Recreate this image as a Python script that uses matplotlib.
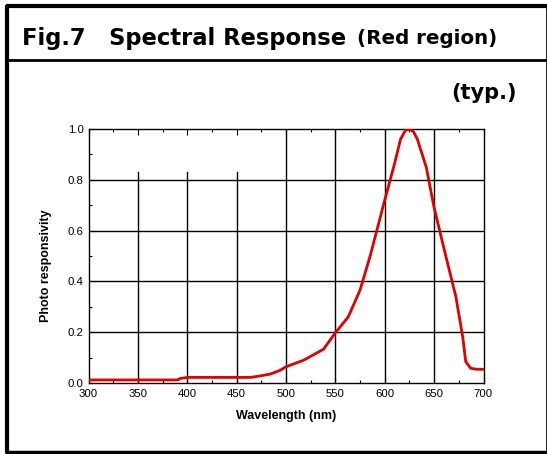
import matplotlib.pyplot as plt
from matplotlib.lines import Line2D
from matplotlib.ticker import MultipleLocator

# values
wavelength = [300, 390, 393, 400, 464, 474, 484, 494, 500, 518, 538, 550, 563, 575,
              585, 600, 610, 616, 621, 625, 629, 633, 642, 650, 662, 672, 679, 682,
              687, 693, 700]
response = [0.012, 0.012, 0.018, 0.022, 0.022, 0.028, 0.035, 0.05, 0.064, 0.09, 0.133,
            0.198, 0.26, 0.366, 0.497, 0.72, 0.865, 0.96, 0.995, 1.0, 0.99, 0.96,
            0.85, 0.69, 0.497, 0.34, 0.18, 0.084, 0.058, 0.054, 0.054]

x_ticks = [300, 350, 400, 450, 500, 550, 600, 650, 700]
y_ticks = [0.0, 0.2, 0.4, 0.6, 0.8, 1.0]

plt.rcParams['font.family'] = ['Liberation Sans', 'DejaVu Sans']

fig = plt.figure(figsize=(5.47, 4.54), dpi=100)
W, H = 547, 454

def px_line(x0, y0, x1, y1, lw):
    fig.add_artist(Line2D([x0 / W, x1 / W], [1 - y0 / H, 1 - y1 / H],
                          transform=fig.transFigure, color='black', lw=lw,
                          solid_capstyle='butt'))

# outer frame and title separator
px_line(6, 6, 547, 6, 3)
px_line(7, 5, 7, 453, 3)
px_line(5, 452, 547, 452, 2.5)
px_line(546, 5, 546, 453, 0.6)
px_line(7, 60, 547, 60, 2)

fig.text(22 / W, 1 - 38 / H, 'Fig.7   Spectral Response', fontsize=16.3,
         fontweight='bold', family='DejaVu Sans', va='center')
fig.text(357 / W, 1 - 39 / H, '(Red region)', fontsize=14.3,
         fontweight='bold', family='DejaVu Sans', va='center')
fig.text(517 / W, 1 - 93 / H, '(typ.)', fontsize=15,
         fontweight='bold', family='DejaVu Sans', va='center', ha='right')

ax = fig.add_axes([88.5 / W, 1 - 383 / H, (483.5 - 88.5) / W, (383 - 129) / H])
ax.set_xlim(300, 700)
ax.set_ylim(0, 1.0)

# grid (the short lines on the left stop below the top in the original)
for xv in x_ticks[1:-1]:
    top = 0.83 if xv < 500 else 1.0
    ax.axvline(xv, ymax=top, color='black', lw=1, zorder=1)
for yv in y_ticks[1:-1]:
    ax.axhline(yv, color='black', lw=1, zorder=1)

ax.plot(wavelength, response, color='#e00000', lw=2, zorder=3)

ax.set_xticks(x_ticks)
ax.set_yticks(y_ticks)
ax.set_yticklabels(['%.1f' % v for v in y_ticks])
ax.xaxis.set_minor_locator(MultipleLocator(25))
ax.yaxis.set_minor_locator(MultipleLocator(0.1))
ax.tick_params(which='both', direction='in', top=True, right=False,
               labelsize=8.2, width=0.8)
ax.tick_params(axis='x', pad=4.5)
ax.tick_params(axis='y', pad=3.5)
ax.tick_params(which='major', length=4)
ax.tick_params(which='minor', length=2.5)
for s in ax.spines.values():
    s.set_linewidth(1)

ax.set_xlabel('Wavelength (nm)', fontsize=9, fontweight='bold', labelpad=8)
ax.set_ylabel('Photo responsivity', fontsize=9, fontweight='bold')
ax.yaxis.set_label_coords(-0.092, 0.46)

fig.savefig('out.png', dpi=100)
